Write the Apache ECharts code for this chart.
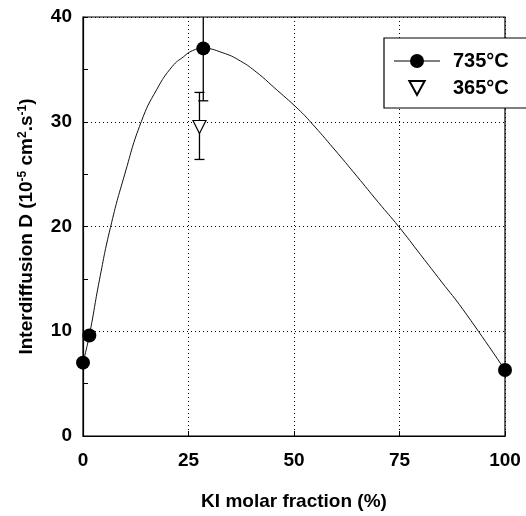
<!DOCTYPE html>
<html>
<head>
<meta charset="utf-8">
<script src="https://cdn.jsdelivr.net/npm/echarts@6/dist/echarts.min.js"></script>
<style>
html,body{margin:0;padding:0;background:#fff;}
#c{width:526px;height:516px;}
</style>
</head>
<body>
<div id="c"></div>
<script>
// Fitted curve
const fitX = [0, 1.5, 3.9, 6.5, 9.9, 13.8, 17.5, 21.2, 23.8, 26, 28.5, 33, 37.3, 41.2, 45.2, 51, 54.1, 59.5, 64.9, 70, 74.8, 80, 85, 90, 100];
const fitY = [7.0, 9.6, 14.9, 19.9, 25.0, 30.0, 33.1, 35.3, 36.2, 36.8, 37.0, 36.6, 35.8, 34.7, 33.3, 31.2, 29.9, 27.4, 24.8, 22.3, 20.0, 17.3, 14.7, 12.1, 6.3];
// 735°C measurements
const x735 = [0, 1.5, 28.5, 100];
const y735 = [7.0, 9.6, 37.0, 6.3];
const lo735 = [null, null, 32.0, null];
const hi735 = [null, null, 42.0, null];
// 365°C measurements
const x365 = [27.6];
const y365 = [29.5];
const lo365 = [26.4];
const hi365 = [32.8];
// Axis ticks
const xMin = 0, xMax = 100, xStep = 25;
const yMin = 0, yMax = 40, yStep = 10;

const FONT = 'Liberation Sans';
const zip = (a, b) => a.map((v, i) => [v, b[i]]);
const errData = [];
x735.forEach((x, i) => { if (lo735[i] != null) errData.push([x, lo735[i], hi735[i]]); });
x365.forEach((x, i) => { if (lo365[i] != null) errData.push([x, lo365[i], hi365[i]]); });

const chart = echarts.init(document.getElementById('c'));
const lineStyleBlack = { stroke: '#000', lineWidth: 1.3 };
chart.setOption({
  animation: false,
  backgroundColor: '#fff',
  grid: { left: 83, right: 21, top: 17, bottom: 72, show: true, borderColor: '#000', borderWidth: 1.2, backgroundColor: 'transparent' },
  legend: {
    orient: 'vertical',
    left: 384, top: 38,
    padding: [13, 30, 10, 10],
    borderColor: '#000', borderWidth: 1.2, backgroundColor: '#fff',
    itemWidth: 46, itemHeight: 14, itemGap: 7,
    symbolKeepAspect: true,
    textStyle: { fontFamily: FONT, fontWeight: 'bold', fontSize: 20, color: '#000', padding: [0, 0, 0, 8] },
    data: [
      { name: '735°C', icon: 'path://M0,6.5 L46,6.5 L46,7.5 L0,7.5 Z M16,7 A7,7 0 1 1 30,7 A7,7 0 1 1 16,7 Z' },
      { name: '365°C', icon: 'path://M0,0 L12,0 L6,11 Z' }
    ]
  },
  xAxis: {
    type: 'value', min: xMin, max: xMax, interval: xStep,
    name: 'KI molar fraction (%)', nameLocation: 'middle', nameGap: 56,
    nameTextStyle: { fontFamily: FONT, fontWeight: 'bold', fontSize: 19, color: '#000' },
    axisLine: { show: true, lineStyle: { color: '#000', width: 1.2 } },
    axisTick: { show: true, inside: true, length: 5, lineStyle: { color: '#000' } },
    axisLabel: { margin: 15, fontFamily: FONT, fontWeight: 'bold', fontSize: 19, color: '#000' },
    splitLine: { show: true, lineStyle: { color: '#000', type: [1, 3], width: 1 } }
  },
  yAxis: {
    type: 'value', min: yMin, max: yMax, interval: yStep,
    name: 'Interdiffusion D (10{s|-5} cm{s|2}.s{s|-1})', nameLocation: 'middle', nameGap: 46,
    nameTextStyle: {
      fontFamily: FONT, fontWeight: 'bold', fontSize: 19, color: '#000',
      rich: { s: { fontFamily: FONT, fontWeight: 'bold', fontSize: 12, color: '#000', verticalAlign: 'top', padding: [0, 0, 8, 0] } }
    },
    axisLine: { show: true, lineStyle: { color: '#000', width: 1.2 } },
    axisTick: { show: true, inside: true, length: 5, lineStyle: { color: '#000' } },
    minorTick: { show: true, splitNumber: 2, length: 5, lineStyle: { color: '#000' } },
    axisLabel: { margin: 11, fontFamily: FONT, fontWeight: 'bold', fontSize: 19, color: '#000' },
    splitLine: { show: true, lineStyle: { color: '#000', type: [1, 3], width: 1 } }
  },
  series: [
    {
      name: 'fit', type: 'line', data: zip(fitX, fitY), smooth: 0.5,
      showSymbol: false, symbol: 'none', silent: true,
      lineStyle: { color: '#111', width: 1 }, z: 2
    },
    {
      name: 'err', type: 'custom', data: errData, clip: true, z: 3,
      renderItem: function (params, api) {
        const x = api.value(0), lo = api.value(1), hi = api.value(2);
        const a = api.coord([x, lo]), b = api.coord([x, hi]);
        const hw = 5;
        return {
          type: 'group', children: [
            { type: 'line', shape: { x1: a[0], y1: a[1], x2: b[0], y2: b[1] }, style: lineStyleBlack },
            { type: 'line', shape: { x1: a[0] - hw, y1: a[1], x2: a[0] + hw, y2: a[1] }, style: lineStyleBlack },
            { type: 'line', shape: { x1: b[0] - hw, y1: b[1], x2: b[0] + hw, y2: b[1] }, style: lineStyleBlack }
          ]
        };
      }
    },
    {
      name: '365°C', type: 'scatter', data: zip(x365, y365),
      symbol: 'triangle', symbolRotate: 180, symbolSize: [13, 13],
      itemStyle: { color: '#fff', borderColor: '#000', borderWidth: 1.2, opacity: 1 }, z: 4
    },
    {
      name: '735°C', type: 'scatter', data: zip(x735, y735),
      symbol: 'circle', symbolSize: 14,
      itemStyle: { color: '#000', opacity: 1 }, z: 5
    }
  ]
});
</script>
</body>
</html>
